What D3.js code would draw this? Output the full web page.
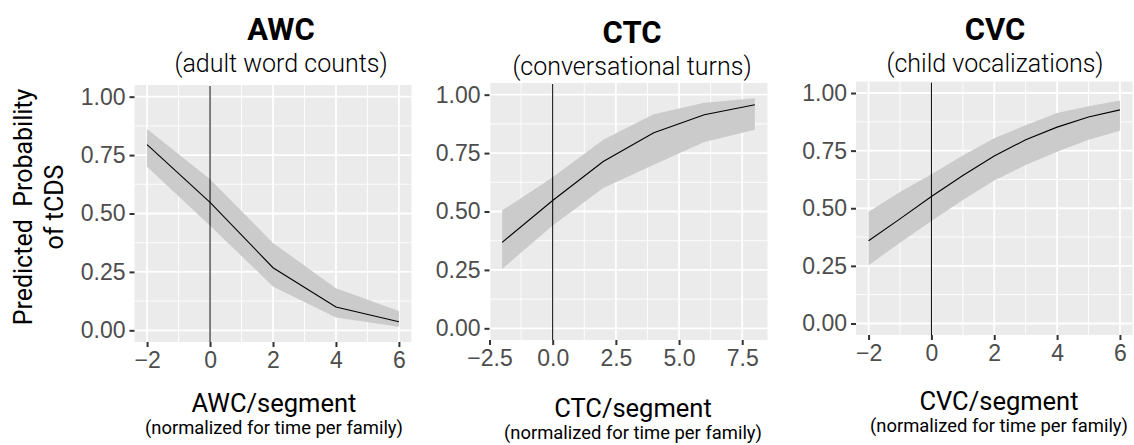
<!DOCTYPE html>
<head>
<meta charset="utf-8">
<title>Predicted probability of tCDS</title>
<script src="https://d3js.org/d3.v7.min.js"></script>
<style>
  body { margin: 0; background: #fff; }
  svg text { font-family: Roboto, "Liberation Sans", sans-serif; }
  .tick text { font-family: "Liberation Sans", Arial, sans-serif; }
</style>
</head>
<body>
<div id="chart"></div>
<script>

  // values
  var titles = ["AWC", "CTC", "CVC"];
  var subtitles = ["(adult word counts)", "(conversational turns)", "(child vocalizations)"];
  var xLabels = ["AWC/segment", "CTC/segment", "CVC/segment"];
  var xSubLabel = "(normalized for time per family)";

  var yTicks = [0, 0.25, 0.5, 0.75, 1];
  var yTickLabels = ["0.00", "0.25", "0.50", "0.75", "1.00"];

  var awcTicks = [-2, 0, 2, 4, 6];
  var awcTickLabels = ["\u22122", "0", "2", "4", "6"];
  var ctcTicks = [-2.5, 0, 2.5, 5, 7.5];
  var ctcTickLabels = ["\u22122.5", "0.0", "2.5", "5.0", "7.5"];
  var cvcTicks = [-2, 0, 2, 4, 6];
  var cvcTickLabels = ["\u22122", "0", "2", "4", "6"];

  var awcX    = [-2, 0, 2, 4, 6];
  var awcFit  = [0.795, 0.548, 0.268, 0.100, 0.037];
  var awcLow  = [0.700, 0.448, 0.188, 0.055, 0.015];
  var awcHigh = [0.862, 0.647, 0.374, 0.180, 0.083];

  var ctcX    = [-2, 0, 2, 4, 6, 8];
  var ctcFit  = [0.368, 0.547, 0.714, 0.837, 0.914, 0.957];
  var ctcLow  = [0.254, 0.440, 0.601, 0.700, 0.797, 0.850];
  var ctcHigh = [0.504, 0.647, 0.807, 0.916, 0.966, 0.985];

  var cvcX    = [-2, -1, 0, 1, 2, 3, 4, 5, 6];
  var cvcFit  = [0.359, 0.454, 0.551, 0.642, 0.727, 0.797, 0.852, 0.896, 0.927];
  var cvcLow  = [0.253, 0.350, 0.445, 0.536, 0.620, 0.688, 0.745, 0.797, 0.836];
  var cvcHigh = [0.485, 0.570, 0.648, 0.729, 0.804, 0.860, 0.913, 0.943, 0.968];

  var width = 1134, height = 445;

  var svg = d3.select("#chart")
    .append("svg")
      .attr("width", width)
      .attr("height", height);

  var panels = [
    { x: awcX, fit: awcFit, lo: awcLow, hi: awcHigh, ticks: awcTicks, tickLabels: awcTickLabels,
      left: 134.5, right: 411.5, top: 85, bottom: 342,
      titleX: 281, titleY: 40, subY: 72, labX: 274, labY: 412, subLabY: 434 },
    { x: ctcX, fit: ctcFit, lo: ctcLow, hi: ctcHigh, ticks: ctcTicks, tickLabels: ctcTickLabels,
      left: 489.5, right: 767.5, top: 83, bottom: 340,
      titleX: 632, titleY: 43, subY: 75, labX: 633, labY: 417, subLabY: 439 },
    { x: cvcX, fit: cvcFit, lo: cvcLow, hi: cvcHigh, ticks: cvcTicks, tickLabels: cvcTickLabels,
      left: 856, right: 1132.5, top: 81.5, bottom: 335,
      titleX: 995, titleY: 40, subY: 72, labX: 999, labY: 410, subLabY: 432 }
  ];

  function midpoints(arr) {
    var out = [];
    for (var i = 0; i < arr.length - 1; i++) out.push((arr[i] + arr[i + 1]) / 2);
    return out;
  }

  panels.forEach(function(p, i) {

    var ext = d3.extent(p.x);
    var pad = (ext[1] - ext[0]) * 0.05;
    var x = d3.scaleLinear()
      .domain([ext[0] - pad, ext[1] + pad])
      .range([p.left, p.right]);
    var y = d3.scaleLinear()
      .domain([-0.05, 1.05])
      .range([p.bottom, p.top]);

    var g = svg.append("g");

    g.append("rect")
      .attr("x", p.left)
      .attr("y", p.top)
      .attr("width", p.right - p.left)
      .attr("height", p.bottom - p.top)
      .style("fill", "#ebebeb");

    // minor grid
    var xStep = p.ticks[1] - p.ticks[0];
    var xMinor = midpoints([p.ticks[0] - xStep].concat(p.ticks, [p.ticks[p.ticks.length - 1] + xStep]))
      .filter(function(v) { return v > x.domain()[0] && v < x.domain()[1]; });
    var yMinor = midpoints([-0.25].concat(yTicks, [1.25]))
      .filter(function(v) { return v > -0.05 && v < 1.05; });

    g.selectAll(".vminor").data(xMinor).enter().append("line")
      .attr("x1", function(d) { return x(d); }).attr("x2", function(d) { return x(d); })
      .attr("y1", p.top).attr("y2", p.bottom)
      .style("stroke", "#fff").style("stroke-width", 0.9);
    g.selectAll(".hminor").data(yMinor).enter().append("line")
      .attr("x1", p.left).attr("x2", p.right)
      .attr("y1", function(d) { return y(d); }).attr("y2", function(d) { return y(d); })
      .style("stroke", "#fff").style("stroke-width", 0.9);

    // major grid
    g.selectAll(".vmajor").data(p.ticks).enter().append("line")
      .attr("x1", function(d) { return x(d); }).attr("x2", function(d) { return x(d); })
      .attr("y1", p.top).attr("y2", p.bottom)
      .style("stroke", "#fff").style("stroke-width", 1.8);
    g.selectAll(".hmajor").data(yTicks).enter().append("line")
      .attr("x1", p.left).attr("x2", p.right)
      .attr("y1", function(d) { return y(d); }).attr("y2", function(d) { return y(d); })
      .style("stroke", "#fff").style("stroke-width", 1.8);

    var rows = p.x.map(function(v, j) { return { x: v, fit: p.fit[j], lo: p.lo[j], hi: p.hi[j] }; });

    g.append("path")
      .datum(rows)
      .attr("d", d3.area()
        .x(function(d) { return x(d.x); })
        .y0(function(d) { return y(d.lo); })
        .y1(function(d) { return y(d.hi); }))
      .style("fill", "#cbcbcb");

    g.append("path")
      .datum(rows)
      .attr("d", d3.line()
        .x(function(d) { return x(d.x); })
        .y(function(d) { return y(d.fit); }))
      .style("fill", "none")
      .style("stroke", "#000")
      .style("stroke-width", 1.1);

    // reference line at zero
    g.append("line")
      .attr("x1", x(0)).attr("x2", x(0))
      .attr("y1", p.top + 1).attr("y2", p.bottom)
      .style("stroke", "#000")
      .style("stroke-width", 1);

    // axes
    var xAxis = g.append("g")
      .attr("transform", "translate(0," + p.bottom + ")")
      .call(d3.axisBottom(x).tickValues(p.ticks)
        .tickFormat(function(d, k) { return p.tickLabels[k]; })
        .tickSize(5).tickPadding(5));
    var yAxis = g.append("g")
      .attr("transform", "translate(" + p.left + ",0)")
      .call(d3.axisLeft(y).tickValues(yTicks)
        .tickFormat(function(d, k) { return yTickLabels[k]; })
        .tickSize(5).tickPadding(4));

    [xAxis, yAxis].forEach(function(a) {
      a.select(".domain").remove();
      a.selectAll(".tick line").style("stroke", "#333").style("stroke-width", 2);
      a.selectAll(".tick text")
        .style("fill", "#4d4d4d")
        .style("font-size", "23px");
    });

    // titles
    g.append("text")
      .attr("x", p.titleX).attr("y", p.titleY)
      .style("text-anchor", "middle")
      .style("font-weight", "bold")
      .style("font-size", "31px")
      .text(titles[i]);
    g.append("text")
      .attr("x", p.titleX).attr("y", p.subY)
      .style("text-anchor", "middle")
      .style("font-weight", 300)
      .style("font-size", "25px")
      .text(subtitles[i]);

    g.append("text")
      .attr("x", p.labX).attr("y", p.labY)
      .style("text-anchor", "middle")
      .style("font-size", "25.5px")
      .text(xLabels[i]);
    g.append("text")
      .attr("x", p.labX).attr("y", p.subLabY)
      .style("text-anchor", "middle")
      .style("font-size", "18.4px")
      .text(xSubLabel);
  });

  // y axis title
  svg.append("text")
    .attr("transform", "translate(32,207) rotate(-90)")
    .style("text-anchor", "middle")
    .style("font-size", "25px")
    .style("white-space", "pre")
    .text("Predicted  Probability");
  svg.append("text")
    .attr("transform", "translate(63,207) rotate(-90)")
    .style("text-anchor", "middle")
    .style("font-size", "25px")
    .text("of tCDS");

</script>
</body>
